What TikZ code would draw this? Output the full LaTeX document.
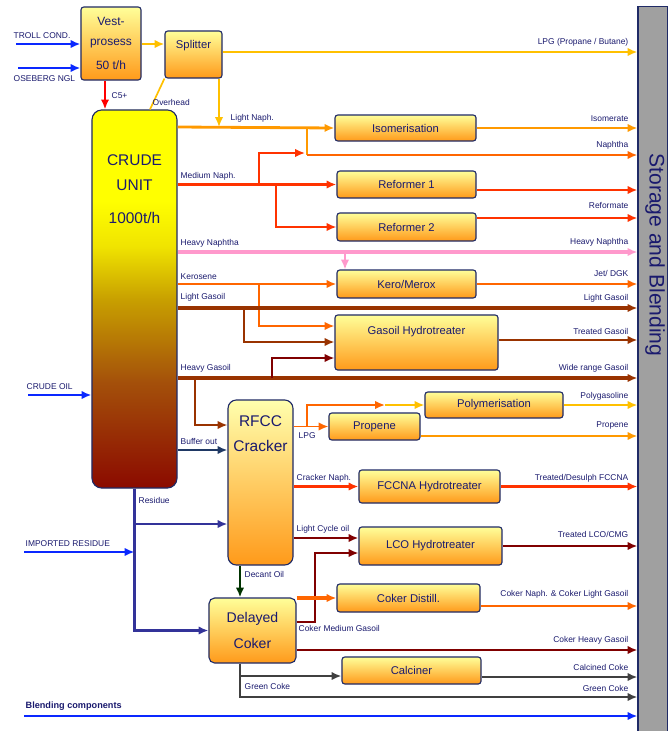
\documentclass[tikz,border=0pt]{standalone}
\usepackage{fontspec}
\setmainfont{Liberation Sans}
\usetikzlibrary{shapes}
\usetikzlibrary{arrows}
\usetikzlibrary{arrows.meta}
\usetikzlibrary{positioning}

\definecolor{ink}{HTML}{1A1A6E}
\definecolor{frame}{HTML}{1F2A66}
\definecolor{boxtop}{HTML}{FFFF99}
\definecolor{boxbot}{HTML}{FF9A1A}
\definecolor{storegray}{HTML}{A0A0A0}
\definecolor{crA}{HTML}{8B0A00}
\definecolor{crB}{HTML}{A4500A}
\definecolor{crC}{HTML}{C8A000}
\definecolor{crD}{HTML}{F0E400}
\definecolor{crE}{HTML}{FFFF00}
\definecolor{feedc}{HTML}{0A28FF}
\definecolor{lpgc}{HTML}{FFC000}
\definecolor{lnaphc}{HTML}{FF9900}
\definecolor{naphc}{HTML}{FF6600}
\definecolor{mnaphc}{HTML}{FF3300}
\definecolor{hnaphc}{HTML}{FF99CC}
\definecolor{gasoilc}{HTML}{993300}
\definecolor{darkredc}{HTML}{800000}
\definecolor{resc}{HTML}{333399}
\definecolor{bufc}{HTML}{1F3864}
\definecolor{decantc}{HTML}{003300}
\definecolor{cokec}{HTML}{404040}

\pgfdeclareverticalshading{crudeshade}{100bp}{color(0bp)=(crA); color(25bp)=(crA); color(39bp)=(crB); color(50bp)=(crC); color(57bp)=(crD); color(63bp)=(crE); color(100bp)=(crE)}

\begin{document}
\begin{tikzpicture}[x=0.025cm,y=-0.025cm,>={Latex[length=7pt,width=6pt]}]
\tikzstyle{unit}=[rectangle,rounded corners=2pt,draw=frame,thick,top color=boxtop,
bottom color=boxbot,text=ink,font=\fontsize{8}{9}\selectfont,inner sep=0pt,align=center]
\tikzstyle{column}=[rectangle,rounded corners=7pt,draw=frame,thick,shade,shading=crudeshade,inner sep=0pt]
\tikzstyle{cracker}=[rectangle,rounded corners=6pt,draw=frame,thick,top color=boxtop!80!white,
bottom color=boxbot,inner sep=0pt]
\tikzstyle{big}=[text=ink,font=\fontsize{11}{18}\selectfont,align=center]
\tikzstyle{lbl}=[text=ink,font=\fontsize{6}{7}\selectfont,inner sep=1pt]
\tikzstyle{flow}=[line width=2pt,->]
\tikzstyle{branch}=[line width=1.2pt,->]
\useasboundingbox (0,0) rectangle (668,731);

% storage bar
\node[rectangle,draw=frame,thick,fill=storegray,minimum width=0.75cm,minimum height=18.1cm,
inner sep=0pt] (storage) at (653,369) {};
\node[rotate=-90,text=ink,font=\fontsize{15}{16}\selectfont] (storage text) at (655,255) {Storage and Blending};

% process units
\node[unit,minimum width=1.5cm,minimum height=1.825cm,font=\fontsize{8.5}{14}\selectfont] (vest) at (111,43.5) {Vest-\\prosess\\[3pt]50 t/h};
\node[unit,minimum width=1.425cm,minimum height=1.175cm,text height=6pt,text depth=15pt] (splitter) at (193.5,54.5) {Splitter};
\node[column,minimum width=2.125cm,minimum height=9.45cm] (crude) at (134.5,299) {};
\node[big] (crude text) at (134.5,189) {CRUDE\\UNIT\\[5pt]1000t/h};
\node[unit,minimum width=3.525cm,minimum height=0.65cm] (isom) at (405.5,128) {Isomerisation};
\node[unit,minimum width=3.475cm,minimum height=0.675cm] (ref1) at (406.5,184.5) {Reformer 1};
\node[unit,minimum width=3.475cm,minimum height=0.7cm] (ref2) at (406.5,227) {Reformer 2};
\node[unit,minimum width=3.475cm,minimum height=0.7cm] (kero) at (406.5,284) {Kero/Merox};
\node[unit,minimum width=4.075cm,minimum height=1.375cm,text height=6pt,text depth=18pt] (gasoil) at (416.5,342.5) {Gasoil Hydrotreater};
\node[cracker,minimum width=1.625cm,minimum height=4.125cm] (rfcc) at (260.5,482.5) {};
\node[big] (rfcc text) at (260.5,434) {RFCC\\Cracker};
\node[unit,minimum width=2.275cm,minimum height=0.675cm] (propene) at (374.5,426.5) {Propene};
\node[unit,minimum width=3.45cm,minimum height=0.65cm] (polym) at (494,405) {Polymerisation};
\node[unit,minimum width=3.525cm,minimum height=0.825cm] (fccna) at (429.5,486.5) {FCCNA Hydrotreater};
\node[unit,minimum width=3.575cm,minimum height=0.95cm] (lco) at (430.5,546) {LCO Hydrotreater};
\node[unit,rounded corners=4pt,minimum width=2.175cm,minimum height=1.625cm,font=\fontsize{10}{18}\selectfont] (coker) at (252.5,630.5) {Delayed\\Coker};
\node[unit,minimum width=3.575cm,minimum height=0.7cm] (cokerdist) at (408.5,598) {Coker Distill.};
\node[unit,minimum width=3.475cm,minimum height=0.675cm] (calciner) at (411.5,670.5) {Calciner};

% feeds
\coordinate (troll) at (16,44);
\coordinate (oseberg) at (18,68);
\coordinate (crude oil) at (28,395);
\coordinate (imported) at (24,552);
\coordinate (blending) at (24,716);
\draw[feedc,line width=1.6pt,->] (troll) -- (vest.west |- troll);
\draw[feedc,line width=1.6pt,->] (oseberg) -- (vest.west |- oseberg);
\draw[feedc,line width=1.6pt,->] (crude oil) -- (crude.west |- crude oil);
\draw[feedc,line width=1.6pt,->] (imported) -- (134.5,552);
\draw[feedc,line width=2pt,->] (blending) -- (storage.west |- blending);

% light ends
\draw[lpgc,flow] (vest.east |- 0,44) -- (splitter.west |- 0,44);
\draw[red,flow] (vest.south -| 105,0) -- (crude.north -| 105,0);
\draw[lpgc,line width=1.2pt] (crude.north -| 150,0) -- (splitter.south west);
\draw[lpgc,flow] (splitter.east |- 0,52) -- (storage.west |- 0,52);
\draw[lpgc,branch] (splitter.south -| 219,0) -- (219,127);
\draw[lnaphc,flow] (crude.east |- 0,127) -- (isom.west);
\draw[lnaphc,flow] (isom.east) -- (storage.west |- isom.east);
\draw[lnaphc,line width=1.2pt] (307,127) -- (307,155);
\draw[naphc,flow] (307,155) -- (storage.west |- 0,155);
\draw[mnaphc,branch] (259,185) |- (305,153);
\draw[mnaphc,flow] (crude.east |- ref1.west) -- (ref1.west);
\draw[mnaphc,branch] (276,184.5) |- (ref2.west);
\draw[mnaphc,flow] (ref1.east |- 0,190) -- (storage.west |- 0,190);
\draw[mnaphc,flow] (ref2.east |- 0,218) -- (storage.west |- 0,218);

% middle distillates
\draw[hnaphc,line width=2.4pt,->] (crude.east |- 0,252) -- (storage.west |- 0,252);
\draw[hnaphc,branch] (345,252) -- (kero.north -| 345,0);
\draw[naphc,flow] (crude.east |- kero.west) -- (kero.west);
\draw[naphc,flow] (kero.east) -- (storage.west |- kero.east);
\draw[naphc,branch] (259,284) |- (gasoil.west |- 0,326);
\draw[gasoilc,line width=2.4pt,->] (crude.east |- 0,308) -- (storage.west |- 0,308);
\draw[gasoilc,branch] (244,308) |- (gasoil.west |- 0,342);
\draw[gasoilc,flow] (gasoil.east |- 0,340) -- (storage.west |- 0,340);
\draw[gasoilc,line width=2.4pt,->] (crude.east |- 0,378) -- (storage.west |- 0,378);
\draw[darkredc,branch] (272,378) |- (gasoil.west |- 0,358);
\draw[gasoilc,branch] (195,378) |- (rfcc.west |- 0,425);
\draw[bufc,flow] (crude.east |- 0,450) -- (rfcc.west |- 0,450);

% residue and cracker
\draw[resc,line width=1.6pt,->] (crude.south) |- (coker.west);
\draw[resc,line width=1.6pt,->] (134.5,524) -- (rfcc.west |- 0,524);
\draw[naphc,branch] (rfcc.east |- propene.west) -- (propene.west);
\draw[naphc,branch] (307,426.5) |- (385,405);
\draw[lpgc,branch] (385,405) -- (polym.west);
\draw[lpgc,flow] (polym.east) -- (storage.west |- polym.east);
\draw[lnaphc,flow] (propene.east |- 0,436) -- (storage.west |- 0,436);
\draw[mnaphc,flow] (rfcc.east |- fccna.west) -- (fccna.west);
\draw[mnaphc,flow] (fccna.east) -- (storage.west |- fccna.east);
\draw[darkredc,flow] (rfcc.east |- 0,538) -- (lco.west |- 0,538);
\draw[darkredc,flow] (lco.east) -- (storage.west |- lco.east);
\draw[decantc,flow] (rfcc.south -| 240,0) -- (coker.north -| 240,0);

% coker
\draw[darkredc,branch] (coker.east |- 0,622) -| (315,553) -- (lco.west |- 0,553);
\draw[naphc,line width=3pt,->] (coker.east |- cokerdist.west) -- (cokerdist.west);
\draw[naphc,flow] (cokerdist.east |- 0,606) -- (storage.west |- 0,606);
\draw[darkredc,flow] (coker.east |- 0,650) -- (storage.west |- 0,650);
\draw[cokec,flow] (coker.south -| 240,0) |- (calciner.west |- 0,676);
\draw[cokec,flow] (calciner.east |- 0,677) -- (storage.west |- 0,677);
\draw[cokec,flow] (coker.south -| 240,0) |- (storage.west |- 0,697);

% stream names
\node[lbl,anchor=south west] (l troll) at (12,40) {TROLL COND.};
\node[lbl,anchor=north west] (l oseberg) at (12,74) {OSEBERG NGL};
\node[lbl,anchor=west] (l c5) at (110,96) {C5+};
\node[lbl,anchor=west] (l overhead) at (151,102) {Overhead};
\node[lbl,anchor=south west] (l lnaph) at (229,124) {Light Naph.};
\node[lbl,anchor=south west] (l mnaph) at (179,182) {Medium Naph.};
\node[lbl,anchor=south west] (l hnaph) at (179,249) {Heavy Naphtha};
\node[lbl,anchor=south west] (l kero) at (179,281) {Kerosene};
\node[lbl,anchor=south west] (l lgo) at (179,303) {Light Gasoil};
\node[lbl,anchor=south west] (l hgo) at (179,374) {Heavy Gasoil};
\node[lbl,anchor=south west] (l buffer) at (179,446) {Buffer out};
\node[lbl,anchor=west] (l residue) at (137,500) {Residue};
\node[lbl,anchor=south west] (l crude oil) at (25,391) {CRUDE OIL};
\node[lbl,anchor=south west] (l imported) at (24,548) {IMPORTED RESIDUE};
\node[lbl,anchor=north west] (l lpg) at (297,431) {LPG};
\node[lbl,anchor=south west] (l cnaph) at (295,484) {Cracker Naph.};
\node[lbl,anchor=south west] (l lcycle) at (295,535) {Light Cycle oil};
\node[lbl,anchor=west] (l decant) at (243,574) {Decant Oil};
\node[lbl,anchor=west] (l cmgo) at (297,628) {Coker Medium Gasoil};
\node[lbl,anchor=west] (l gcoke) at (243,686) {Green Coke};
\node[lbl,anchor=south west,font=\fontsize{6.5}{7}\selectfont\bfseries] (l blending) at (24,712) {Blending components};

\node[lbl,anchor=south east] (r lpg) at (630,48) {LPG (Propane / Butane)};
\node[lbl,anchor=south east] (r isomerate) at (630,123) {Isomerate};
\node[lbl,anchor=south east] (r naphtha) at (630,151) {Naphtha};
\node[lbl,anchor=east] (r reformate) at (630,205) {Reformate};
\node[lbl,anchor=south east] (r hnaph) at (630,248) {Heavy Naphtha};
\node[lbl,anchor=south east] (r jet) at (630,278) {Jet/ DGK};
\node[lbl,anchor=south east] (r lgo) at (630,304) {Light Gasoil};
\node[lbl,anchor=south east] (r tgo) at (630,336) {Treated Gasoil};
\node[lbl,anchor=south east] (r wrgo) at (630,374) {Wide range Gasoil};
\node[lbl,anchor=south east] (r polygas) at (630,402) {Polygasoline};
\node[lbl,anchor=south east] (r propene) at (630,431) {Propene};
\node[lbl,anchor=south east] (r fccna) at (630,484) {Treated/Desulph FCCNA};
\node[lbl,anchor=south east] (r lco) at (630,539) {Treated LCO/CMG};
\node[lbl,anchor=south east] (r cokernaph) at (630,600) {Coker Naph. \& Coker Light Gasoil};
\node[lbl,anchor=south east] (r chgo) at (630,646) {Coker Heavy Gasoil};
\node[lbl,anchor=south east] (r calcined) at (630,672) {Calcined Coke};
\node[lbl,anchor=south east] (r green) at (630,693) {Green Coke};
\end{tikzpicture}
\end{document}
